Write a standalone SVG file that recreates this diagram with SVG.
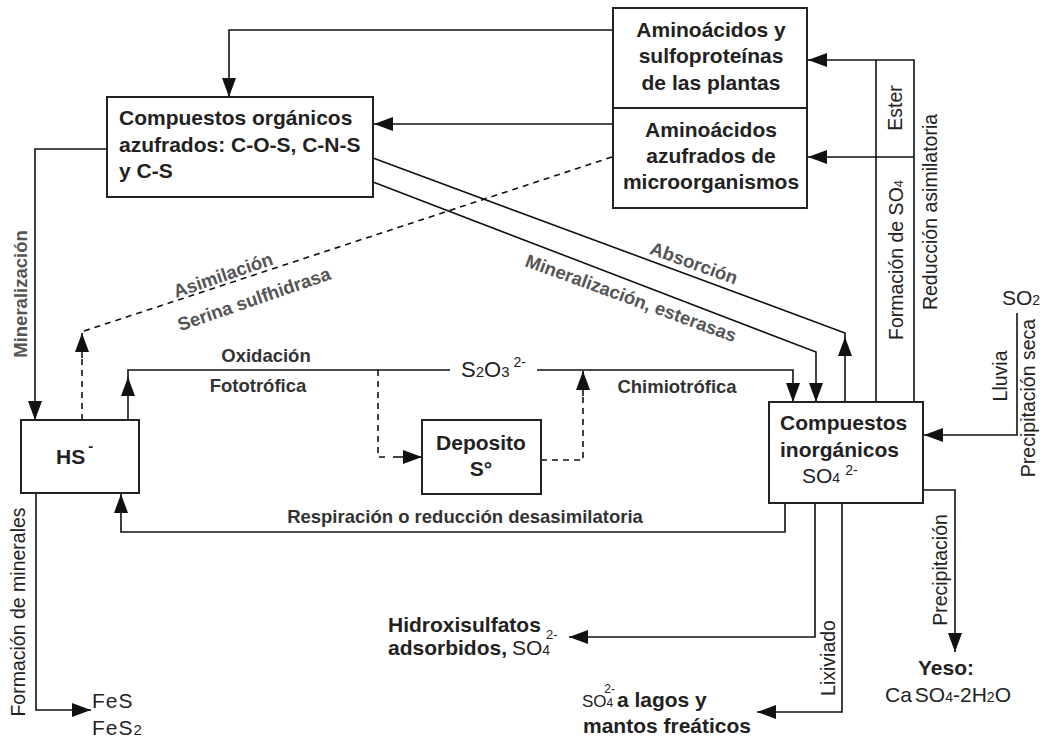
<svg xmlns="http://www.w3.org/2000/svg" width="1042" height="740" viewBox="0 0 1042 740">
<defs>
<marker id="ah" markerUnits="userSpaceOnUse" markerWidth="20" markerHeight="14" refX="19" refY="7" orient="auto">
<path d="M0,0 L19,7 L0,14 z" fill="#111"/>
</marker>
<style>
.box{fill:#fff;stroke:#222;stroke-width:2}
.bt{font-family:"Liberation Sans",Arial,sans-serif;font-weight:bold;font-size:21px;fill:#222}
.rg{font-family:"Liberation Sans",Arial,sans-serif;font-weight:normal;fill:#222}
.lb{font-family:"Liberation Sans",Arial,sans-serif;font-weight:bold;font-size:18.5px;fill:#333}
.dg{font-family:"Liberation Sans",Arial,sans-serif;font-weight:bold;font-size:18.5px;fill:#555}
.rt{font-family:"Liberation Sans",Arial,sans-serif;font-size:19.5px;fill:#222}
.ln{fill:none;stroke:#111;stroke-width:1.6}
.ar{fill:none;stroke:#111;stroke-width:1.6;marker-end:url(#ah)}
.ds{fill:none;stroke:#111;stroke-width:1.6;stroke-dasharray:6,5}
</style>
</defs>
<rect width="1042" height="740" fill="#fff"/>

<g id="connectors">
<path class="ar" d="M613,30 H229 V97"/>
<path class="ar" d="M613,124 H374"/>
<path class="ar" d="M107,149 H35 V420"/>
<path class="ar" d="M914,402 V60 H808"/>
<path class="ln" d="M876,402 V60"/>
<path class="ar" d="M914,157 H808"/>
<path class="ar" d="M845,402 V337"/>
<path class="ln" d="M845,338 V333 L373,158"/>
<path class="ar" d="M373,182 L816,352 V402"/>
<path class="ds" d="M82,420 V356"/>
<path class="ar" d="M82,358 V333"/>
<path class="ds" d="M84,331 L612,157"/>
<path class="ar" d="M128,420 V377"/>
<path class="ln" d="M128,378 V370 H450"/>
<path class="ar" d="M537,370 H793 V402"/>
<path class="ds" d="M378,370 V457 H388"/>
<path class="ar" d="M393,457 H422"/>
<path class="ds" d="M541,460 H583 V394"/>
<path class="ar" d="M583,396 V371"/>
<path class="ar" d="M785,503 V532 H121 V494"/>
<path class="ar" d="M815,503 V637 H569"/>
<path class="ar" d="M842,503 V712 H757"/>
<path class="ar" d="M923,490 H955 V652"/>
<path class="ar" d="M1017,313 V435 H924"/>
<path class="ar" d="M36,493 V710 H91"/>
</g>

<g id="node-plantas">
<rect class="box" x="613" y="8" width="194" height="100"/>
<text class="bt" text-anchor="middle"><tspan x="711" y="37">Aminoácidos y</tspan><tspan x="711" y="63">sulfoproteínas</tspan><tspan x="711" y="90">de las plantas</tspan></text>
</g>
<g id="node-microorganismos">
<rect class="box" x="613" y="108" width="194" height="100"/>
<text class="bt" text-anchor="middle"><tspan x="711" y="137">Aminoácidos</tspan><tspan x="711" y="163">azufrados de</tspan><tspan x="711" y="189">microorganismos</tspan></text>
</g>
<g id="node-organicos">
<rect class="box" x="107" y="97" width="266" height="100"/>
<text class="bt"><tspan x="119" y="125">Compuestos orgánicos</tspan><tspan x="119" y="152">azufrados: C-O-S, C-N-S</tspan><tspan x="119" y="178">y C-S</tspan></text>
</g>
<g id="node-hs">
<rect class="box" x="21" y="420" width="118" height="73"/>
<text class="bt" x="56" y="464" font-size="23">HS<tspan dx="3" dy="-13" font-size="15">-</tspan></text>
</g>
<g id="node-deposito">
<rect class="box" x="422" y="420" width="119" height="74"/>
<text class="bt" text-anchor="middle"><tspan x="481" y="450">Deposito</tspan><tspan x="481" y="476">S°</tspan></text>
</g>
<g id="node-inorganicos">
<rect class="box" x="769" y="402" width="154" height="101"/>
<text class="bt"><tspan x="780" y="430">Compuestos</tspan><tspan x="780" y="457">inorgánicos</tspan></text>
<text class="rg" x="802" y="483" font-size="21">SO<tspan font-size="14">4</tspan><tspan dx="5" dy="-8" font-size="14">2-</tspan></text>
</g>
<g id="node-s2o3">
<text class="rg" x="461" y="377" font-size="22">S<tspan font-size="15">2</tspan>O<tspan font-size="15">3</tspan><tspan dx="4" dy="-10" font-size="14">2-</tspan></text>
</g>
<g id="node-so2">
<text class="rg" x="1002" y="305" font-size="21">SO<tspan font-size="14">2</tspan></text>
</g>
<g id="node-hidroxisulfatos">
<text class="bt"><tspan x="388" y="632">Hidroxisulfatos</tspan><tspan x="388" y="655">adsorbidos,</tspan></text>
<text class="rg" x="512" y="655" font-size="21">SO<tspan font-size="14">4</tspan></text>
<text class="rg" x="546" y="639" font-size="13">2-</text>
</g>
<g id="node-lagos">
<text class="rg" x="582" y="707" font-size="17">SO<tspan font-size="12">4</tspan><tspan dx="-9" dy="-14" font-size="12">2-</tspan><tspan dx="2" dy="14" font-size="21" font-weight="bold">a lagos y</tspan></text>
<text class="bt" x="583" y="733">mantos freáticos</text>
</g>
<g id="node-yeso">
<text class="bt" x="946" y="675" text-anchor="middle">Yeso:</text>
<text class="rg" x="885" y="702" font-size="21">Ca<tspan dx="3">SO</tspan><tspan font-size="14">4</tspan>-2H<tspan font-size="14">2</tspan>O</text>
</g>
<g id="node-fes">
<text class="rg" font-size="21" letter-spacing="1"><tspan x="92" y="708">FeS</tspan><tspan x="92" y="735">FeS<tspan font-size="15">2</tspan></tspan></text>
</g>

<g id="labels">
<text class="lb" x="266" y="362" text-anchor="middle">Oxidación</text>
<text class="lb" x="258" y="392" text-anchor="middle">Fototrófica</text>
<text class="lb" x="677" y="393" text-anchor="middle">Chimiotrófica</text>
<text class="lb" x="465" y="523" text-anchor="middle">Respiración o reducción desasimilatoria</text>
<text class="dg" transform="translate(223,275) rotate(-19)" text-anchor="middle" dy="0.35em">Asimilación</text>
<text class="dg" transform="translate(254,299) rotate(-19)" text-anchor="middle" dy="0.35em">Serina sulfhidrasa</text>
<text class="dg" transform="translate(694,263) rotate(20)" text-anchor="middle" dy="0.35em">Absorción</text>
<text class="dg" transform="translate(631,298) rotate(20)" text-anchor="middle" dy="0.35em">Mineralización, esterasas</text>
<text class="dg" transform="translate(27,294) rotate(-90)" text-anchor="middle" font-size="18">Mineralización</text>
<text class="rt" transform="translate(902,108) rotate(-90)" text-anchor="middle">Ester</text>
<text class="rt" transform="translate(903,260) rotate(-90)" text-anchor="middle">Formación de SO<tspan font-size="13">4</tspan></text>
<text class="rt" transform="translate(937,212) rotate(-90)" text-anchor="middle">Reducción asimilatoria</text>
<text class="rt" transform="translate(1007,376) rotate(-90)" text-anchor="middle">Lluvia</text>
<text class="rt" transform="translate(1035,398) rotate(-90)" text-anchor="middle">Precipitación seca</text>
<text class="rt" transform="translate(947,570) rotate(-90)" text-anchor="middle">Precipitación</text>
<text class="rt" transform="translate(835,658) rotate(-90)" text-anchor="middle">Lixiviado</text>
<text class="rt" transform="translate(25,612) rotate(-90)" text-anchor="middle">Formación de minerales</text>
</g>
</svg>
